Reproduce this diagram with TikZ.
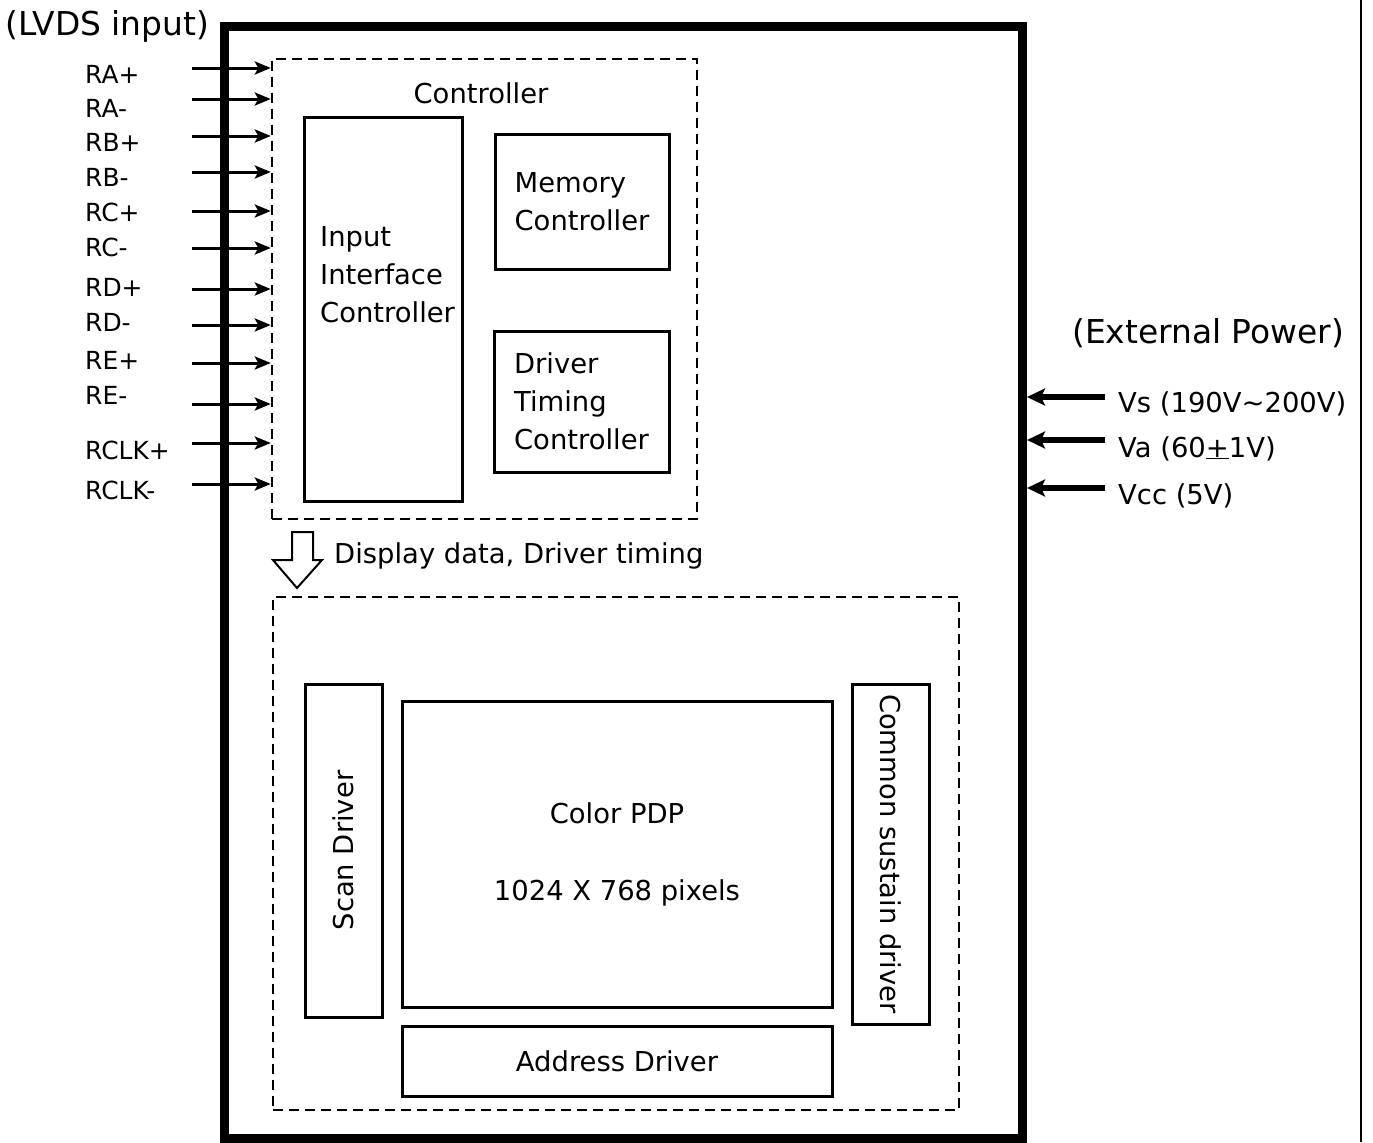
\documentclass[tikz,border=0pt]{standalone}
\usepackage{fontspec}
\setmainfont{DejaVu Sans}
\usetikzlibrary{arrows.meta, positioning}

\begin{document}
\begin{tikzpicture}[x=1bp,y=-1bp,
  txt/.style={font=\fontsize{27.5}{38}\selectfont, inner sep=0pt},
  bigtxt/.style={font=\fontsize{33}{40}\selectfont, inner sep=0pt, anchor=base west},
  sigtxt/.style={font=\fontsize{25}{30}\selectfont, inner sep=0pt, anchor=base west},
  blk/.style={draw, line width=3bp, txt, align=center},
  group/.style={draw, line width=2.4bp, dash pattern=on 10bp off 6bp},
  sigarrow/.style={line width=3bp, -{Stealth[length=16bp,width=13bp,inset=3.5bp]}},
  pwrarrow/.style={line width=5.5bp, -{Stealth[length=18bp,width=17bp,inset=4bp]}}]
  \useasboundingbox (0,0) rectangle (1373,1142);

  % --- module outline and stray frame line ---
  \node[draw, line width=9bp, minimum width=798bp, minimum height=1111bp] (lcd) at (623.5,582.5) {};
  \draw[line width=2.5bp] (1361,0) -- (1361,1142);
  \node[bigtxt] (lvds) at (5,35) {(LVDS input)};
  \node[bigtxt] (extpwr) at (1072,343) {(External Power)};

  % --- controller group ---
  \node[group, minimum width=425bp, minimum height=460bp] (ctrl) at (484.5,289) {};
  \node[txt] (ctrltitle) at (481,93) {Controller};
  \node[blk, minimum width=158bp, minimum height=384bp] (iic) at (383,309) {};
  \node[txt, align=left, anchor=west] (iictxt) at (320,275) {Input\\Interface\\Controller};
  \node[blk, align=left, minimum width=174bp, minimum height=135bp] (mem) at (582,201.5) {Memory\\Controller};
  \node[blk, align=left, minimum width=175bp, minimum height=141bp] (dtc) at (581.5,401.5) {Driver\\Timing\\Controller};

  % --- LVDS input lines ---
  \foreach \lab/\ly/\ay [count=\i] in {RA+/83/68, RA-/117/99, RB+/151/136, RB-/186/172,
      RC+/221/211, RC-/256/248, RD+/296/289, RD-/331/325, RE+/369/363, RE-/404/404,
      RCLK+/459/443, RCLK-/499/484}
  {
    \node[sigtxt] (sig\i) at (85,\ly) {\lab};
    \coordinate (src\i) at (192,\ay);
    \draw[sigarrow] (src\i) -- (src\i -| ctrl.west);
  }

  % --- data flow to panel ---
  \draw[line width=2bp, line join=miter] (292,532) -- (313,532) -- (313,560) -- (322,560)
    -- (297,588) -- (273,560) -- (292,560) -- cycle;
  \node[txt, anchor=west] (flowtxt) at (334,556) {Display data, Driver timing};

  % --- panel group ---
  \node[group, minimum width=686bp, minimum height=513bp] (panel) at (616,853.5) {};
  \node[blk, rotate=90, minimum width=333bp, minimum height=77bp] (scan) at (343.5,850.5) {Scan Driver};
  \node[blk, minimum width=430bp, minimum height=306bp] (pdp) at (617,854) {Color PDP\\[39bp]1024 X 768 pixels};
  \node[blk, rotate=-90, minimum width=340bp, minimum height=77bp] (csd) at (890.5,854) {Common sustain driver};
  \node[blk, minimum width=430bp, minimum height=70bp] (addr) at (617,1061) {Address Driver};

  % --- external power inputs ---
  \foreach \lab/\ly/\ay [count=\i] in {Vs (190V{\textasciitilde}200V)/412/397,
      Va (60\underline{+}1V)/457/440, Vcc (5V)/504/488}
  {
    \node[txt, anchor=base west] (pwr\i) at (1118,\ly) {\lab};
    \coordinate (psrc\i) at (1105,\ay);
    \draw[pwrarrow] (psrc\i) -- (psrc\i -| lcd.east);
  }
\end{tikzpicture}
\end{document}
